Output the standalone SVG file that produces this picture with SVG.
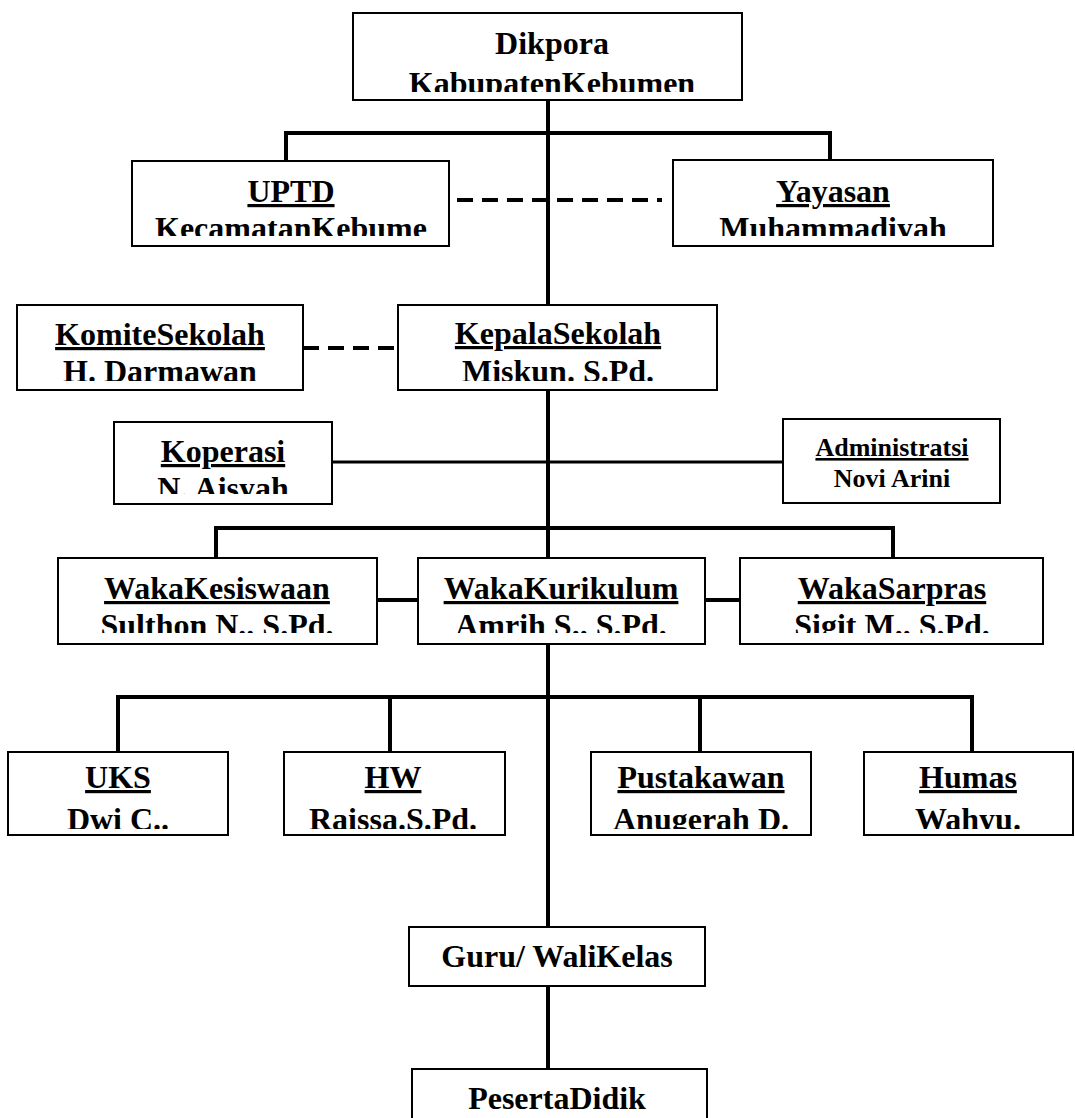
<svg xmlns="http://www.w3.org/2000/svg" width="1075" height="1118" viewBox="0 0 1075 1118">
<style>
  .box { fill: #fff; stroke: #000; stroke-width: 2; }
  .t { font-family: "Liberation Serif", "Times New Roman", serif; font-weight: bold; font-size: 32px; fill: #000; text-anchor: middle; }
  .s { font-size: 26px; }
  .u { text-decoration: underline; text-decoration-thickness: 3px; }
  .ln { stroke: #000; stroke-width: 4; fill: none; }
  .thin { stroke-width: 3; }
  .dash { stroke: #000; stroke-width: 4; stroke-dasharray: 16 9; fill: none; }
</style>
<defs>
  <clipPath id="c-dik"><rect x="354" y="14" width="387" height="78"/></clipPath>
  <clipPath id="c-uptd"><rect x="133" y="162" width="315" height="74"/></clipPath>
  <clipPath id="c-yay"><rect x="674" y="161" width="318" height="75"/></clipPath>
  <clipPath id="c-kom"><rect x="18" y="306" width="284" height="75"/></clipPath>
  <clipPath id="c-kep"><rect x="399" y="306" width="317" height="75"/></clipPath>
  <clipPath id="c-kop"><rect x="115" y="423" width="216" height="71"/></clipPath>
  <clipPath id="c-adm"><rect x="784" y="420" width="215" height="82"/></clipPath>
  <clipPath id="c-w1"><rect x="59" y="559" width="317" height="74"/></clipPath>
  <clipPath id="c-w2"><rect x="419" y="559" width="285" height="74"/></clipPath>
  <clipPath id="c-w3"><rect x="741" y="559" width="301" height="74"/></clipPath>
  <clipPath id="c-b1"><rect x="9" y="753" width="218" height="76"/></clipPath>
  <clipPath id="c-b2"><rect x="285" y="753" width="219" height="76"/></clipPath>
  <clipPath id="c-b3"><rect x="592" y="753" width="218" height="76"/></clipPath>
  <clipPath id="c-b4"><rect x="865" y="753" width="207" height="76"/></clipPath>
</defs>

<g id="connectors">
  <line class="dash" x1="457" y1="200" x2="662" y2="200"/>
  <line class="dash" x1="303" y1="348" x2="398" y2="348"/>
  <line class="ln" x1="548" y1="100" x2="548" y2="927"/>
  <polyline class="ln" points="286,161 286,133 830,133 830,160"/>
  <line class="ln thin" x1="332" y1="462" x2="783" y2="462"/>
  <polyline class="ln" points="216,558 216,528 893,528 893,558"/>
  <line class="ln" x1="377" y1="600" x2="418" y2="600"/>
  <line class="ln" x1="705" y1="600" x2="740" y2="600"/>
  <polyline class="ln" points="118,752 118,697 972,697 972,752"/>
  <line class="ln" x1="390" y1="697" x2="390" y2="752"/>
  <line class="ln" x1="700" y1="697" x2="700" y2="752"/>
  <line class="ln" x1="548" y1="986" x2="548" y2="1069"/>
</g>

<g id="node-dikpora">
  <rect class="box" x="353" y="13" width="389" height="87"/>
  <g clip-path="url(#c-dik)">
    <text class="t" x="552" y="54">Dikpora</text>
    <text class="t" x="552" y="94">KabupatenKebumen</text>
  </g>
</g>

<g id="node-uptd">
  <rect class="box" x="132" y="161" width="317" height="85"/>
  <g clip-path="url(#c-uptd)">
    <text class="t u" x="291" y="202">UPTD</text>
    <text class="t" x="291" y="239">KecamatanKebume</text>
  </g>
</g>

<g id="node-yayasan">
  <rect class="box" x="673" y="160" width="320" height="86"/>
  <g clip-path="url(#c-yay)">
    <text class="t u" x="833" y="202">Yayasan</text>
    <text class="t" x="833" y="239">Muhammadiyah</text>
  </g>
</g>

<g id="node-komite">
  <rect class="box" x="17" y="305" width="286" height="85"/>
  <g clip-path="url(#c-kom)">
    <text class="t u" x="160" y="345">KomiteSekolah</text>
    <text class="t" x="160" y="382">H. Darmawan</text>
  </g>
</g>

<g id="node-kepala">
  <rect class="box" x="398" y="305" width="319" height="85"/>
  <g clip-path="url(#c-kep)">
    <text class="t u" x="558" y="344">KepalaSekolah</text>
    <text class="t" x="558" y="382">Miskun. S.Pd.</text>
  </g>
</g>

<g id="node-koperasi">
  <rect class="box" x="114" y="422" width="218" height="82"/>
  <g clip-path="url(#c-kop)">
    <text class="t u" x="223" y="462">Koperasi</text>
    <text class="t" x="223" y="499">N. Aisyah</text>
  </g>
</g>

<g id="node-administratsi">
  <rect class="box" x="783" y="419" width="217" height="84"/>
  <g clip-path="url(#c-adm)">
    <text class="t s u" x="892" y="456">Administratsi</text>
    <text class="t s" x="892" y="487">Novi Arini</text>
  </g>
</g>

<g id="node-wakakesiswaan">
  <rect class="box" x="58" y="558" width="319" height="86"/>
  <g clip-path="url(#c-w1)">
    <text class="t u" x="217" y="599">WakaKesiswaan</text>
    <text class="t" x="217" y="636">Sulthon N.. S.Pd.</text>
  </g>
</g>

<g id="node-wakakurikulum">
  <rect class="box" x="418" y="558" width="287" height="86"/>
  <g clip-path="url(#c-w2)">
    <text class="t u" x="561" y="599">WakaKurikulum</text>
    <text class="t" x="561" y="636">Amrih S.. S.Pd.</text>
  </g>
</g>

<g id="node-wakasarpras">
  <rect class="box" x="740" y="558" width="303" height="86"/>
  <g clip-path="url(#c-w3)">
    <text class="t u" x="892" y="599">WakaSarpras</text>
    <text class="t" x="892" y="636">Sigit M.. S.Pd.</text>
  </g>
</g>

<g id="node-uks">
  <rect class="box" x="8" y="752" width="220" height="83"/>
  <g clip-path="url(#c-b1)">
    <text class="t u" x="118" y="788">UKS</text>
    <text class="t" x="118" y="830">Dwi C..</text>
  </g>
</g>

<g id="node-hw">
  <rect class="box" x="284" y="752" width="221" height="83"/>
  <g clip-path="url(#c-b2)">
    <text class="t u" x="393" y="788">HW</text>
    <text class="t" x="393" y="830">Raissa.S.Pd.</text>
  </g>
</g>

<g id="node-pustakawan">
  <rect class="box" x="591" y="752" width="220" height="83"/>
  <g clip-path="url(#c-b3)">
    <text class="t u" x="701" y="788">Pustakawan</text>
    <text class="t" x="701" y="830">Anugerah D.</text>
  </g>
</g>

<g id="node-humas">
  <rect class="box" x="864" y="752" width="209" height="83"/>
  <g clip-path="url(#c-b4)">
    <text class="t u" x="968" y="788">Humas</text>
    <text class="t" x="968" y="830">Wahyu.</text>
  </g>
</g>

<g id="node-guru">
  <rect class="box" x="409" y="927" width="296" height="59"/>
  <text class="t" x="557" y="967">Guru/ WaliKelas</text>
</g>

<g id="node-peserta">
  <rect class="box" x="412" y="1069" width="295" height="70"/>
  <text class="t" x="557" y="1109">PesertaDidik</text>
</g>
</svg>
